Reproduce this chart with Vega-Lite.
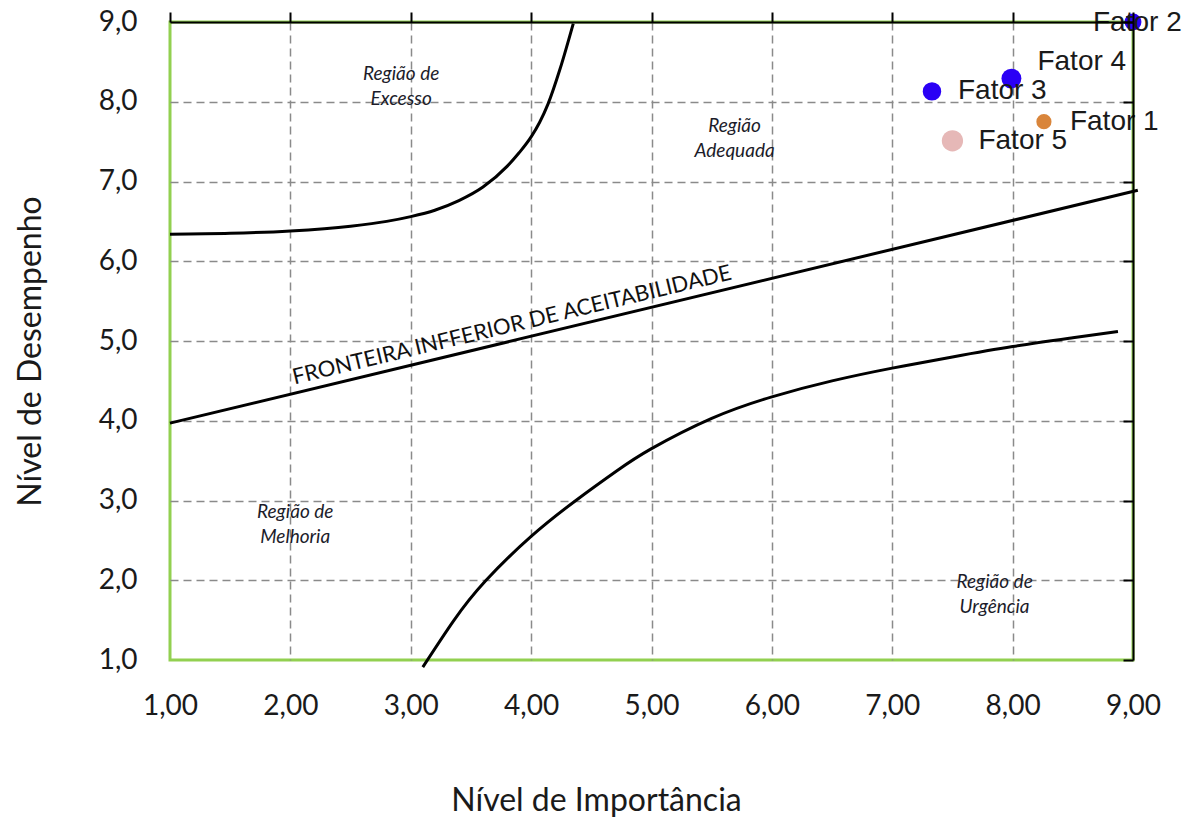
{
  "$schema": "https://vega.github.io/schema/vega-lite/v6.json",
  "width": 963,
  "height": 638,
  "autosize": "none",
  "padding": {"left": 170, "top": 22, "right": 62, "bottom": 158},
  "background": "white",
  "config": {
    "font": "Lato",
    "view": {"stroke": "#92D050", "strokeWidth": 3}
  },
  "datasets": {
    "frontier": [{"x": 1, "y": 3.97}, {"x": 9.04, "y": 6.89}],
    "upper": [
      {"x": 1.0, "y": 6.34}, {"x": 1.5, "y": 6.35}, {"x": 2.0, "y": 6.38}, {"x": 2.5, "y": 6.44},
      {"x": 2.8, "y": 6.5}, {"x": 3.0, "y": 6.56}, {"x": 3.2, "y": 6.64}, {"x": 3.4, "y": 6.76},
      {"x": 3.6, "y": 6.93}, {"x": 3.8, "y": 7.19}, {"x": 3.9, "y": 7.36}, {"x": 4.0, "y": 7.56},
      {"x": 4.07, "y": 7.74}, {"x": 4.14, "y": 7.97}, {"x": 4.24, "y": 8.41}, {"x": 4.35, "y": 8.98}
    ],
    "lower": [
      {"x": 3.1, "y": 0.91}, {"x": 3.36, "y": 1.5}, {"x": 3.62, "y": 1.99}, {"x": 4.0, "y": 2.55},
      {"x": 4.38, "y": 3.01}, {"x": 4.71, "y": 3.37}, {"x": 5.0, "y": 3.65}, {"x": 5.5, "y": 4.03},
      {"x": 6.0, "y": 4.3}, {"x": 6.5, "y": 4.5}, {"x": 7.0, "y": 4.66}, {"x": 7.5, "y": 4.8},
      {"x": 8.0, "y": 4.93}, {"x": 8.5, "y": 5.04}, {"x": 8.875, "y": 5.12}
    ],
    "points": [
      {"fator": "Fator 1", "x": 8.26, "y": 7.75},
      {"fator": "Fator 2", "x": 9.0, "y": 9.0},
      {"fator": "Fator 3", "x": 7.33, "y": 8.13},
      {"fator": "Fator 4", "x": 7.99, "y": 8.29},
      {"fator": "Fator 5", "x": 7.5, "y": 7.51}
    ],
    "regions": [
      {"label": "Região de\nExcesso", "x": 2.92, "y": 8.35},
      {"label": "Região\nAdequada", "x": 5.69, "y": 7.7},
      {"label": "Região de\nMelhoria", "x": 2.04, "y": 2.86},
      {"label": "Região de\nUrgência", "x": 7.85, "y": 1.98}
    ],
    "frontierLabel": [{"label": "FRONTEIRA INFFERIOR DE ACEITABILIDADE", "x": 3.84, "y": 5.2}]
  },
  "resolve": {"axis": {"x": "independent", "y": "independent"}},
  "layer": [
    {
      "data": {"name": "frontier"},
      "mark": {"type": "line", "color": "black", "strokeWidth": 3},
      "encoding": {
        "x": {"field": "x", "type": "quantitative",
          "scale": {"domain": [1, 9], "nice": false, "zero": false},
          "axis": {"orient": "bottom", "values": [1, 2, 3, 4, 5, 6, 7, 8, 9], "domain": false, "ticks": false,
            "grid": true, "gridDash": [8, 5], "gridColor": "#8a8a8a", "gridWidth": 1.5,
            "gridOpacity": {"condition": {"test": "datum.value === 1 || datum.value === 9", "value": 0}, "value": 1},
            "labelFlush": false,
            "labelExpr": "replace(format(datum.value, '.2f'), '.', ',')",
            "labelFontSize": 28, "labelColor": "#1a1a1a", "labelPadding": 32, "labelFont": "Lato",
            "title": "Nível de Importância", "titleFontSize": 32, "titleFontWeight": "normal", "titleColor": "#1a1a1a",
            "titleX": 426, "titleY": 140, "titleBaseline": "middle", "titleAlign": "center"}},
        "y": {"field": "y", "type": "quantitative",
          "scale": {"domain": [1, 9], "nice": false, "zero": false},
          "axis": {"orient": "left", "values": [1, 2, 3, 4, 5, 6, 7, 8, 9], "domain": false, "ticks": false,
            "grid": true, "gridDash": [8, 5], "gridColor": "#8a8a8a", "gridWidth": 1.5,
            "gridOpacity": {"condition": {"test": "datum.value === 1 || datum.value === 9", "value": 0}, "value": 1},
            "labelFlush": false,
            "labelExpr": "replace(format(datum.value, '.1f'), '.', ',')",
            "labelFontSize": 28, "labelColor": "#1a1a1a", "labelPadding": 33, "labelFont": "Lato",
            "title": "Nível de Desempenho", "titleFontSize": 32, "titleFontWeight": "normal", "titleColor": "#1a1a1a",
            "titleAngle": -90, "titleX": -140, "titleY": 329, "titleBaseline": "middle", "titleAlign": "center"}}
      }
    },
    {
      "data": {"name": "upper"},
      "mark": {"type": "line", "color": "black", "strokeWidth": 3, "interpolate": "monotone"},
      "encoding": {
        "x": {"field": "x", "type": "quantitative",
          "axis": {"orient": "top", "values": [1, 2, 3, 4, 5, 6, 7, 8, 9], "domain": true, "domainColor": "black", "domainWidth": 2,
            "ticks": true, "tickColor": "black", "tickWidth": 2, "tickSize": 10, "labels": false, "grid": false, "title": null, "zindex": 2}},
        "y": {"field": "y", "type": "quantitative",
          "axis": {"orient": "right", "values": [1, 2, 3, 4, 5, 6, 7, 8, 9], "domain": true, "domainColor": "black", "domainWidth": 2,
            "ticks": true, "tickColor": "black", "tickWidth": 2, "tickSize": -10, "labels": false, "grid": false, "title": null, "zindex": 2}}
      }
    },
    {
      "data": {"name": "lower"},
      "mark": {"type": "line", "color": "black", "strokeWidth": 3, "interpolate": "natural"},
      "encoding": {
        "x": {"field": "x", "type": "quantitative", "axis": null},
        "y": {"field": "y", "type": "quantitative", "axis": null}
      }
    },
    {
      "data": {"name": "frontierLabel"},
      "mark": {"type": "text", "angle": -13.5, "fontSize": 22, "font": "Lato", "color": "#111", "align": "center", "baseline": "middle"},
      "encoding": {
        "x": {"field": "x", "type": "quantitative", "axis": null},
        "y": {"field": "y", "type": "quantitative", "axis": null},
        "text": {"field": "label"}
      }
    },
    {
      "data": {"name": "regions"},
      "mark": {"type": "text", "fontSize": 19, "fontStyle": "italic", "font": "Lato", "color": "#1c1c2a", "align": "center", "baseline": "middle", "lineBreak": "\n", "lineHeight": 25},
      "encoding": {
        "x": {"field": "x", "type": "quantitative", "axis": null},
        "y": {"field": "y", "type": "quantitative", "axis": null},
        "text": {"field": "label"}
      }
    },
    {
      "data": {"name": "points"},
      "mark": {"type": "circle", "opacity": 1},
      "encoding": {
        "x": {"field": "x", "type": "quantitative", "axis": null},
        "y": {"field": "y", "type": "quantitative", "axis": null},
        "color": {"field": "fator", "type": "nominal", "legend": null,
          "scale": {"domain": ["Fator 1", "Fator 2", "Fator 3", "Fator 4", "Fator 5"], "range": ["#D9853B", "#2A00F5", "#2A00F5", "#2A00F5", "#E6B8B7"]}},
        "size": {"field": "fator", "type": "nominal", "legend": null,
          "scale": {"domain": ["Fator 1", "Fator 2", "Fator 3", "Fator 4", "Fator 5"], "range": [230, 452, 452, 452, 314]}}
      }
    },
    {
      "data": {"name": "points"},
      "transform": [{"filter": "datum.fator === 'Fator 1' || datum.fator === 'Fator 3' || datum.fator === 'Fator 5'"}],
      "mark": {"type": "text", "font": "Liberation Sans", "fontSize": 28, "color": "#1a1a1a", "align": "left", "baseline": "middle", "dx": 26},
      "encoding": {
        "x": {"field": "x", "type": "quantitative", "axis": null},
        "y": {"field": "y", "type": "quantitative", "axis": null},
        "text": {"field": "fator"}
      }
    },
    {
      "data": {"name": "points"},
      "transform": [{"filter": "datum.fator === 'Fator 4'"}],
      "mark": {"type": "text", "font": "Liberation Sans", "fontSize": 28, "color": "#1a1a1a", "align": "left", "baseline": "middle", "dx": 26, "dy": -17},
      "encoding": {
        "x": {"field": "x", "type": "quantitative", "axis": null},
        "y": {"field": "y", "type": "quantitative", "axis": null},
        "text": {"field": "fator"}
      }
    },
    {
      "data": {"name": "points"},
      "transform": [{"filter": "datum.fator === 'Fator 2'"}],
      "mark": {"type": "text", "font": "Liberation Sans", "fontSize": 28, "color": "#1a1a1a", "align": "left", "baseline": "middle", "dx": -40, "dy": 1},
      "encoding": {
        "x": {"field": "x", "type": "quantitative", "axis": null},
        "y": {"field": "y", "type": "quantitative", "axis": null},
        "text": {"field": "fator"}
      }
    }
  ]
}
